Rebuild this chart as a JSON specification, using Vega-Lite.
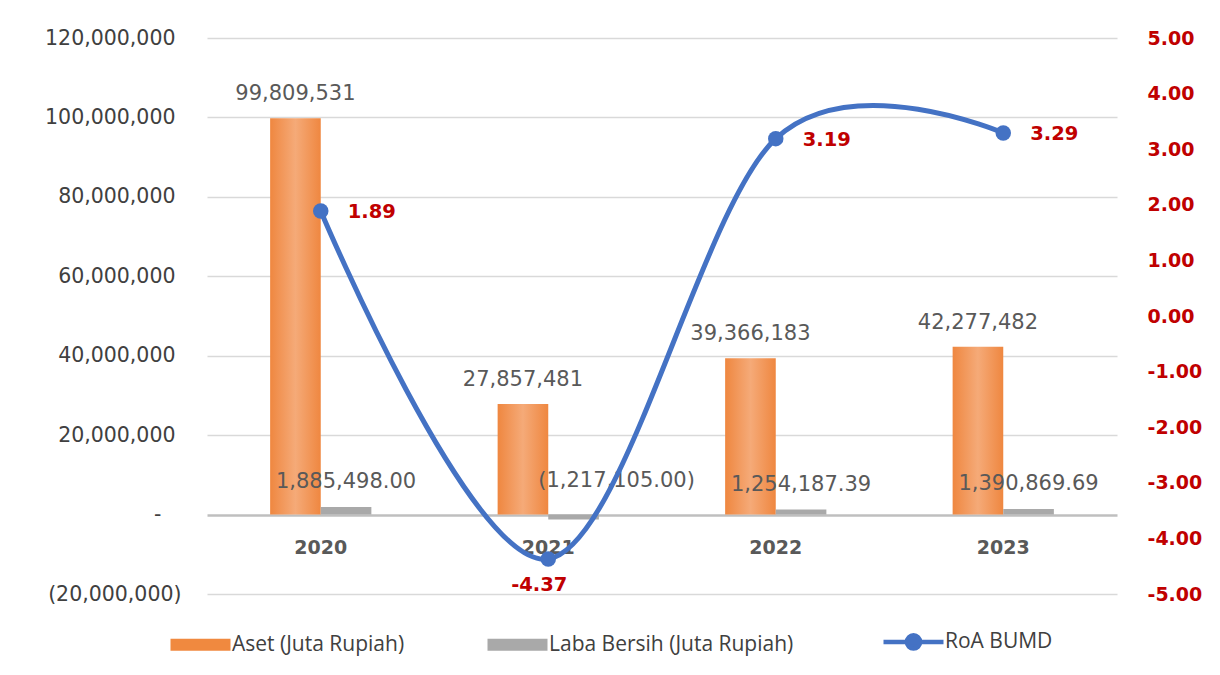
{
  "$schema": "https://vega.github.io/schema/vega-lite/v6.json",
  "width": 910,
  "height": 556,
  "autosize": "none",
  "padding": {"left": 207, "top": 38, "right": 103, "bottom": 81},
  "background": "white",
  "config": {
    "view": {"stroke": null},
    "font": "DejaVu Sans",
    "locale": {
      "number": {"decimal": ".", "thousands": ",", "grouping": [3], "currency": ["", ""], "minus": "-"}
    }
  },
  "datasets": {
    "keuangan": [
      {"tahun": "2020", "seri": "Aset (Juta Rupiah)", "nilai": 99809531},
      {"tahun": "2020", "seri": "Laba Bersih (Juta Rupiah)", "nilai": 1885498.00},
      {"tahun": "2021", "seri": "Aset (Juta Rupiah)", "nilai": 27857481},
      {"tahun": "2021", "seri": "Laba Bersih (Juta Rupiah)", "nilai": -1217105.00},
      {"tahun": "2022", "seri": "Aset (Juta Rupiah)", "nilai": 39366183},
      {"tahun": "2022", "seri": "Laba Bersih (Juta Rupiah)", "nilai": 1254187.39},
      {"tahun": "2023", "seri": "Aset (Juta Rupiah)", "nilai": 42277482},
      {"tahun": "2023", "seri": "Laba Bersih (Juta Rupiah)", "nilai": 1390869.69}
    ],
    "roa": [
      {"tahun": "2020", "roa": 1.89},
      {"tahun": "2021", "roa": -4.37},
      {"tahun": "2022", "roa": 3.19},
      {"tahun": "2023", "roa": 3.29}
    ]
  },
  "layer": [
    {
      "data": {"name": "keuangan"},
      "encoding": {
        "x": {
          "field": "tahun",
          "type": "nominal",
          "scale": {"paddingInner": 0.555, "paddingOuter": 0.2775},
          "axis": {
            "orient": "bottom",
            "offset": -79,
            "title": null,
            "domain": false,
            "ticks": false,
            "labelAngle": 0,
            "labelFont": "DejaVu Sans",
            "labelFontSize": 19,
            "labelFontWeight": "bold",
            "labelColor": "#595959",
            "labelPadding": 23
          }
        },
        "xOffset": {
          "field": "seri",
          "type": "nominal",
          "scale": {"domain": ["Aset (Juta Rupiah)", "Laba Bersih (Juta Rupiah)"], "paddingInner": 0, "paddingOuter": 0}
        },
        "y": {
          "field": "nilai",
          "type": "quantitative",
          "scale": {"domain": [-20000000, 120000000], "nice": false, "zero": false},
          "axis": {
            "orient": "left",
            "title": null,
            "values": [-20000000, 0, 20000000, 40000000, 60000000, 80000000, 100000000, 120000000],
            "labelExpr": "datum.value === 0 ? '-' : (datum.value < 0 ? '(' + format(-datum.value, ',') + ')' : format(datum.value, ','))",
            "domain": false,
            "ticks": false,
            "grid": true,
            "gridColor": {"condition": {"test": "datum.value === 0", "value": "#BFBFBF"}, "value": "#D9D9D9"},
            "gridWidth": {"condition": {"test": "datum.value === 0", "value": 2.5}, "value": 1.5},
            "labelFont": "DejaVu Sans",
            "labelFontSize": 20.5,
            "labelColor": "#404040",
            "labelPadding": {"condition": [{"test": "datum.value === 0", "value": 46}, {"test": "datum.value < 0", "value": 26}], "value": 32}
          }
        }
      },
      "layer": [
        {
          "mark": {"type": "bar"},
          "encoding": {
            "fill": {
              "field": "seri",
              "type": "nominal",
              "scale": {
                "domain": ["Aset (Juta Rupiah)", "Laba Bersih (Juta Rupiah)", "RoA BUMD"],
                "range": ["#F0893F", "#A9A9A9", "#4472C4"]
              },
              "condition": {
                "test": "datum.seri === 'Aset (Juta Rupiah)'",
                "value": {
                  "gradient": "linear", "x1": 0, "x2": 1, "y1": 0, "y2": 0,
                  "stops": [
                    {"offset": 0, "color": "#EF8740"},
                    {"offset": 0.5, "color": "#F5AA78"},
                    {"offset": 1, "color": "#EF8740"}
                  ]
                }
              },
              "legend": {
                "title": null,
                "orient": "none",
                "legendX": -39,
                "legendY": 593,
                "direction": "horizontal",
                "columns": 3,
                "padding": 0,
                "columnPadding": 80,
                "symbolSize": 3600,
                "symbolStrokeWidth": 0,
                "symbolOffset": 22,
                "labelOffset": 21,
                "labelFont": "Open Sans",
                "labelFontSize": 21,
                "labelColor": "#404040",
                "labelLimit": 400,
                "encode": {
                  "symbols": {
                    "update": {
                      "shape": {"signal": "datum.value === 'RoA BUMD' ? 'M-1,0L1,0M-0.22,0A0.22,0.22,0,1,1,0.22,0A0.22,0.22,0,1,1,-0.22,0Z' : 'M-1,-0.2L1,-0.2L1,0.2L-1,0.2Z'"},
                      "stroke": {"signal": "datum.value === 'RoA BUMD' ? '#4472C4' : null"},
                      "strokeWidth": {"signal": "datum.value === 'RoA BUMD' ? 4.5 : 0"}
                    }
                  }
                }
              }
            }
          }
        },
        {
          "transform": [{"filter": "datum.seri === 'Aset (Juta Rupiah)'"}],
          "mark": {"type": "text", "baseline": "middle", "dy": -24, "font": "DejaVu Sans", "fontSize": 21, "color": "#595959"},
          "encoding": {
            "text": {"field": "nilai", "type": "quantitative", "format": ","}
          }
        },
        {
          "transform": [{"filter": "datum.seri === 'Laba Bersih (Juta Rupiah)' && datum.nilai >= 0"}],
          "mark": {"type": "text", "baseline": "middle", "dy": -25, "font": "DejaVu Sans", "fontSize": 21, "color": "#595959"},
          "encoding": {
            "text": {"field": "nilai", "type": "quantitative", "format": ",.2f"}
          }
        },
        {
          "transform": [
            {"filter": "datum.seri === 'Laba Bersih (Juta Rupiah)' && datum.nilai < 0"},
            {"calculate": "'(' + format(-datum.nilai, ',.2f') + ')'", "as": "label"}
          ],
          "mark": {"type": "text", "baseline": "middle", "dx": 43, "dy": -38, "font": "DejaVu Sans", "fontSize": 21, "color": "#595959"},
          "encoding": {
            "text": {"field": "label", "type": "nominal"}
          }
        }
      ]
    },
    {
      "data": {"name": "roa"},
      "encoding": {
        "x": {"field": "tahun", "type": "nominal"},
        "y": {
          "field": "roa",
          "type": "quantitative",
          "scale": {"domain": [-5, 5], "nice": false, "zero": false},
          "axis": {
            "orient": "right",
            "title": null,
            "values": [-5, -4, -3, -2, -1, 0, 1, 2, 3, 4, 5],
            "format": ".2f",
            "domain": false,
            "ticks": false,
            "grid": false,
            "labelAlign": "left",
            "labelPadding": 30,
            "labelFont": "DejaVu Sans",
            "labelFontSize": 19,
            "labelFontWeight": "bold",
            "labelColor": "#C00000"
          }
        }
      },
      "layer": [
        {
          "mark": {
            "type": "line",
            "interpolate": "cardinal",
            "color": "#4472C4",
            "strokeWidth": 5,
            "point": {"filled": true, "size": 240, "color": "#4472C4"}
          }
        },
        {
          "transform": [{"filter": "datum.roa >= 0"}],
          "mark": {"type": "text", "align": "left", "baseline": "middle", "dx": 27, "dy": 1, "font": "DejaVu Sans", "fontSize": 19.5, "fontWeight": "bold", "color": "#C00000"},
          "encoding": {"text": {"field": "roa", "type": "quantitative", "format": ".2f"}}
        },
        {
          "transform": [{"filter": "datum.roa < 0"}],
          "mark": {"type": "text", "align": "center", "baseline": "middle", "dx": -9, "dy": 26, "font": "DejaVu Sans", "fontSize": 19.5, "fontWeight": "bold", "color": "#C00000"},
          "encoding": {"text": {"field": "roa", "type": "quantitative", "format": ".2f"}}
        }
      ]
    }
  ],
  "resolve": {"scale": {"y": "independent"}}
}
